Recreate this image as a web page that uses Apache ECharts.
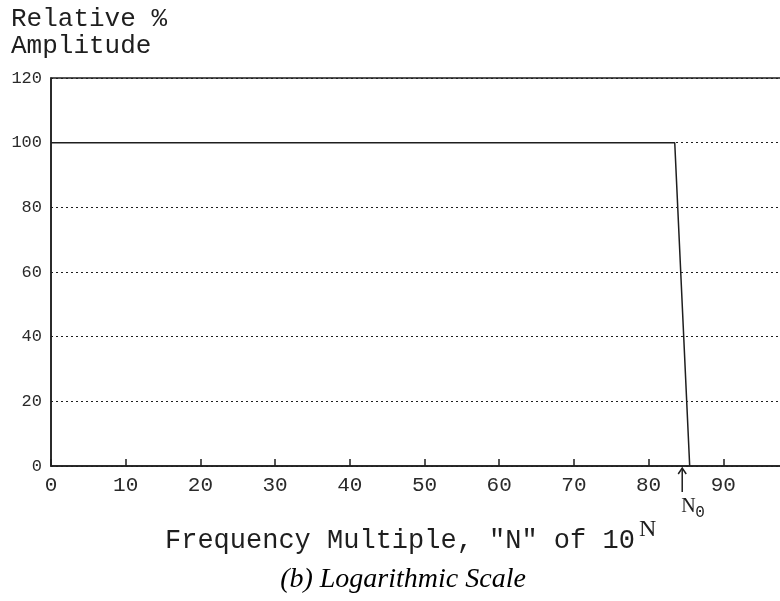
<!DOCTYPE html>
<html><head><meta charset="utf-8">
<script src="https://cdn.jsdelivr.net/npm/echarts@6/dist/echarts.min.js"></script>
<style>html,body{margin:0;padding:0;background:#fff}#c{width:780px;height:601px}</style>
</head><body><div id="c"></div>
<script>
// ---- data ----
const xTickStep = 10;
const xRange = [0, 100];
const yTickStep = 20;
const yRange = [0, 120];
const curveN = [0, 83.5, 85.5];
const curveAmp = [100, 100, 0];
const markerN0 = 84.5;
const yTitleLines = ['Relative %', 'Amplitude'];
const xTitle = 'Frequency Multiple, "N" of 10';
const xTitleSup = 'N';
const markerLabel = 'N';
const markerSub = '0';
const caption = '(b) Logarithmic Scale';

const MONO = '"Liberation Mono", "Courier New", monospace';
const SERIF = '"Liberation Serif", "Times New Roman", serif';
const INK = '#1e1e1e';

const chart = echarts.init(document.getElementById('c'), null, {renderer: 'canvas'});
const option = {
  animation: false,
  backgroundColor: '#fff',
  grid: {left: 51, top: 78, width: 747, height: 388, outerBoundsMode: 'none', containLabel: false,
         show: true, borderColor: INK, borderWidth: 1.5, backgroundColor: 'transparent'},
  xAxis: {
    type: 'value', min: xRange[0], max: xRange[1], interval: xTickStep,
    axisLine: {show: true, lineStyle: {color: INK, width: 1.5}},
    axisTick: {show: true, inside: true, length: 7, lineStyle: {color: INK, width: 1.5}},
    axisLabel: {show: true, color: '#2a2a2a', fontFamily: MONO, fontSize: 21, margin: 9},
    splitLine: {show: false}
  },
  yAxis: {
    type: 'value', min: yRange[0], max: yRange[1], interval: yTickStep,
    axisLine: {show: true, lineStyle: {color: INK, width: 1.5}},
    axisTick: {show: false},
    axisLabel: {show: true, color: '#2a2a2a', fontFamily: MONO, fontSize: 17, margin: 9},
    splitLine: {show: true, lineStyle: {color: INK, width: 1, type: [2, 3]}}
  },
  series: [{
    type: 'line',
    data: curveN.map((n, i) => [n, curveAmp[i]]),
    symbol: 'none',
    lineStyle: {color: INK, width: 1.5},
    clip: false
  }]
};
chart.setOption(option);

const p = chart.convertToPixel({gridIndex: 0}, [markerN0, 0]);
chart.setOption({
  graphic: [
    {id: 't1', type: 'text', x: 11, y: 6, style: {text: yTitleLines[0], font: '26px ' + MONO, fill: INK, verticalAlign: 'top'}},
    {id: 't2', type: 'text', x: 11, y: 33, style: {text: yTitleLines[1], font: '26px ' + MONO, fill: INK, verticalAlign: 'top'}},
    {id: 'xt', type: 'text', x: 165, y: 527, style: {text: xTitle, font: '27px ' + MONO, fill: INK, verticalAlign: 'top'}},
    {id: 'xs', type: 'text', x: 639, y: 518, style: {text: xTitleSup, font: '24px ' + SERIF, fill: INK, verticalAlign: 'top'}},
    {id: 'cap', type: 'text', x: 403, y: 566, style: {text: caption, font: 'italic 28px ' + SERIF, fill: '#000', align: 'center', verticalAlign: 'top'}},
    {id: 'al', type: 'line', shape: {x1: p[0], y1: p[1] + 2, x2: p[0], y2: p[1] + 26}, style: {stroke: INK, lineWidth: 1.5}},
    {id: 'ah', type: 'polyline', shape: {points: [[p[0] - 4, p[1] + 8], [p[0], p[1] + 2], [p[0] + 4, p[1] + 8]]}, style: {stroke: INK, lineWidth: 1.5, fill: null}},
    {id: 'ml', type: 'text', x: p[0] - 1, y: p[1] + 31, style: {text: markerLabel, font: '20px ' + SERIF, fill: INK, verticalAlign: 'top'}},
    {id: 'ms', type: 'text', x: p[0] + 13, y: p[1] + 39, style: {text: markerSub, font: '16px ' + MONO, fill: INK, verticalAlign: 'top'}}
  ]
});
</script></body></html>
